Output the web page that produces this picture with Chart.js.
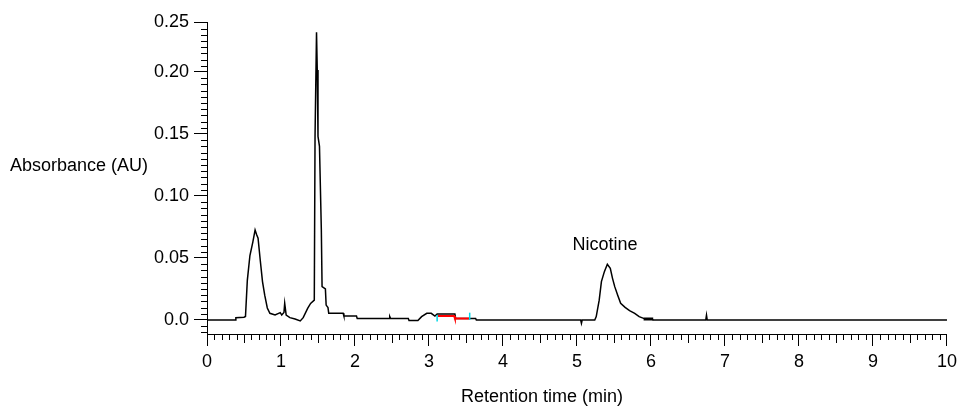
<!DOCTYPE html>
<html>
<head>
<meta charset="utf-8">
<script src="https://cdn.jsdelivr.net/npm/chart.js@4.4.1/dist/chart.umd.min.js"></script>
<style>
  html, body { margin: 0; padding: 0; background: #ffffff; }
  #wrap { width: 962px; height: 407px; }
</style>
</head>
<body>
<div id="wrap"><canvas id="c" width="962" height="407"></canvas></div>
<script>
// ---- data ----
const retentionTime = [
  0.00, 0.38, 0.39, 0.50, 0.52, 0.545, 0.58, 0.62, 0.65, 0.67, 0.69, 0.72, 0.75, 0.78, 0.815,
  0.85, 0.92, 0.99, 1.01, 1.04, 1.05, 1.07, 1.12, 1.19, 1.26, 1.30, 1.36, 1.40, 1.45, 1.46,
  1.47, 1.48, 1.49, 1.50, 1.52, 1.545, 1.555, 1.60, 1.61, 1.635, 1.645, 1.84, 1.85, 2.02, 2.03,
  2.46, 2.47, 2.48, 2.72, 2.73, 2.85, 2.90, 2.97, 3.03, 3.08, 3.11, 3.35, 3.36, 3.55, 3.63,
  3.64, 5.05, 5.06, 5.07, 5.24, 5.26, 5.30, 5.33, 5.37, 5.41, 5.45, 5.48, 5.51, 5.55, 5.59,
  5.65, 5.71, 5.78, 5.84, 5.90, 6.01, 6.03, 6.74, 6.75, 6.76, 10.0
];
const absorbance = [
  0, 0, 0.0018, 0.0022, 0.0028, 0.032, 0.052, 0.063, 0.0726, 0.069, 0.066, 0.048, 0.031, 0.020, 0.0097,
  0.0054, 0.004, 0.0059, 0.004, 0.006, 0.0134, 0.004, 0.0019, 0.0008, -0.0008, 0.0019, 0.0094, 0.0134, 0.016, 0.148,
  0.148, 0.232, 0.2016, 0.148, 0.14, 0.073, 0.027, 0.025, 0.012, 0.010, 0.0054, 0.0054, 0.0032, 0.0032, 0.0013,
  0.0013, 0.0027, 0.0013, 0.0013, -0.0005, -0.0005, 0.0027, 0.0054, 0.0054, 0.0032, 0.0048, 0.0048, 0.0013, 0.0013, 0.0013,
  0, 0, -0.0027, 0, 0, 0.0027, 0.016, 0.031, 0.039, 0.0449, 0.0417, 0.0336, 0.0269, 0.020, 0.0134,
  0.0102, 0.0075, 0.0054, 0.0027, 0.0013, 0.0008, 0, 0, 0.004, 0, 0
];
// integration baseline (red) and its start/end markers (cyan)
const baselineTime = [3.12, 3.34, 3.35, 3.55];
const baselineValue = [0.0032, 0.0032, 0.0013, 0.0013];
const markerStartTime = [3.11, 3.11];
const markerStartValue = [-0.0013, 0.004];
const markerEndTime = [3.55, 3.55];
const markerEndValue = [0.0, 0.0059];
// end-of-peak baseline mark (thick)
const peakEndTime = [5.90, 6.03];
const peakEndValue = [0.0008, 0.0008];
// axes
const xMin = 0, xMax = 10;
const yMin = -0.0113, yMax = 0.2403;
const yTickValues = [0, 0.05, 0.10, 0.15, 0.20, 0.2403];
const yTickLabels = ['0.0', '0.05', '0.10', '0.15', '0.20', '0.25'];
const peakLabel = { text: 'Nicotine', x: 5.38, y: 0.0605 };
const yAxisTitle = 'Absorbance (AU)';
const xAxisTitle = 'Retention time (min)';

const FONT = '"Liberation Sans", Arial, sans-serif';
const pts = (xs, ys) => xs.map((x, i) => ({ x: x, y: ys[i] }));

const decorPlugin = {
  id: 'decor',
  afterDraw(chart) {
    const ctx = chart.ctx;
    const xs = chart.scales.x, ys = chart.scales.y;
    const area = chart.chartArea;
    ctx.save();
    ctx.strokeStyle = '#000';
    ctx.lineWidth = 1;
    // minor / medium x ticks
    ctx.beginPath();
    for (let i = 0; i <= 100; i++) {
      if (i % 10 === 0) continue;
      const px = Math.round(xs.getPixelForValue(i / 10)) + 0.5;
      const len = (i % 5 === 0) ? 9 : 6;
      ctx.moveTo(px, area.bottom);
      ctx.lineTo(px, area.bottom + len);
    }
    // minor y ticks every 0.005
    for (let k = -2; k <= 48; k++) {
      if (k % 10 === 0) continue;
      const v = k * 0.005;
      if (v < yMin || v > yMax) continue;
      const py = Math.round(ys.getPixelForValue(v)) + 0.5;
      ctx.moveTo(area.left, py);
      ctx.lineTo(area.left - 6, py);
    }
    ctx.stroke();
    // texts
    ctx.fillStyle = '#000';
    ctx.font = '18px ' + FONT;
    ctx.textBaseline = 'middle';
    ctx.textAlign = 'left';
    ctx.fillText(yAxisTitle, 10, 166);
    ctx.textAlign = 'center';
    ctx.fillText(xAxisTitle, 542, 397);
    ctx.fillText(peakLabel.text, xs.getPixelForValue(peakLabel.x), ys.getPixelForValue(peakLabel.y));
    ctx.restore();
  }
};

new Chart(document.getElementById('c'), {
  type: 'scatter',
  data: {
    datasets: [
      { data: pts(retentionTime, absorbance), showLine: true, borderColor: '#000', borderWidth: 1.5, pointRadius: 0, tension: 0, order: 3 },
      { data: pts(baselineTime, baselineValue), showLine: true, borderColor: '#ff0000', borderWidth: 2, pointRadius: 0, order: 2 },
      { data: pts(markerStartTime, markerStartValue), showLine: true, borderColor: '#00d8e8', borderWidth: 1.5, pointRadius: 0, order: 1 },
      { data: pts(markerEndTime, markerEndValue), showLine: true, borderColor: '#00d8e8', borderWidth: 1.5, pointRadius: 0, order: 1 },
      { data: pts(peakEndTime, peakEndValue), showLine: true, borderColor: '#000', borderWidth: 3, pointRadius: 0, order: 1 }
    ]
  },
  options: {
    responsive: false,
    animation: false,
    events: [],
    layout: { padding: { left: 0, right: 15, top: 22, bottom: 0 } },
    plugins: { legend: { display: false }, tooltip: { enabled: false } },
    scales: {
      x: {
        type: 'linear', min: xMin, max: xMax,
        afterFit(scale) { scale.height = 407 - 334; },
        border: { display: true, color: '#000', width: 1 },
        grid: { display: true, drawOnChartArea: false, drawTicks: true, tickLength: 12, tickColor: '#000', tickWidth: 1 },
        ticks: { stepSize: 1, color: '#000', font: { family: FONT, size: 18 }, padding: 5, maxRotation: 0,
                 callback: (v) => String(v) }
      },
      y: {
        type: 'linear', min: yMin, max: yMax,
        afterFit(scale) { scale.width = 207; },
        afterBuildTicks(scale) { scale.ticks = yTickValues.map(v => ({ value: v })); },
        border: { display: true, color: '#000', width: 1 },
        grid: { display: true, drawOnChartArea: false, drawTicks: true, tickLength: 13, tickColor: '#000', tickWidth: 1 },
        ticks: { color: '#000', font: { family: FONT, size: 18 }, padding: 5,
                 callback: (v, i) => yTickLabels[i] }
      }
    }
  },
  plugins: [decorPlugin]
});
</script>
</body>
</html>
